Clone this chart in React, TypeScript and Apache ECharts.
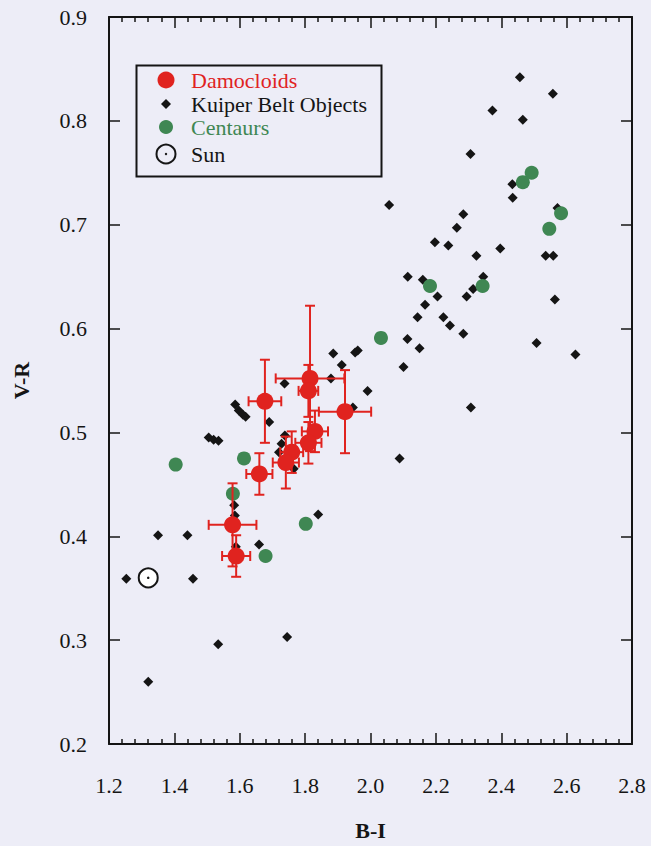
import React, { useEffect, useRef } from "react";
import * as echarts from "echarts";

// ---- data ----
const xTicks = [1.2, 1.4, 1.6, 1.8, 2.0, 2.2, 2.4, 2.6, 2.8];
const yTicks = [0.2, 0.3, 0.4, 0.5, 0.6, 0.7, 0.8, 0.9];

// Damocloids: [B-I, V-R, B-I error, V-R error]
const damocloids: number[][] = [
  [1.677, 0.530, 0.05, 0.04],
  [1.815, 0.552, 0.105, 0.07],
  [1.810, 0.540, 0.03, 0.025],
  [1.922, 0.520, 0.08, 0.04],
  [1.830, 0.501, 0.04, 0.02],
  [1.810, 0.490, 0.04, 0.02],
  [1.759, 0.481, 0.035, 0.02],
  [1.741, 0.471, 0.04, 0.025],
  [1.660, 0.460, 0.04, 0.02],
  [1.578, 0.411, 0.073, 0.04],
  [1.589, 0.381, 0.043, 0.02],
];

// Kuiper Belt Objects: [B-I, V-R]
const kuiperBeltObjects: number[][] = [
  [2.457, 0.842], [2.558, 0.826], [2.373, 0.810], [2.466, 0.801], [2.306, 0.768],
  [2.434, 0.739], [2.435, 0.726], [2.057, 0.719], [2.572, 0.716], [2.284, 0.710],
  [2.264, 0.697], [2.197, 0.683], [2.238, 0.680], [2.397, 0.677], [2.324, 0.670],
  [2.536, 0.670], [2.559, 0.670], [2.114, 0.650], [2.160, 0.647], [2.345, 0.650],
  [2.314, 0.638], [2.205, 0.631], [2.294, 0.631], [2.564, 0.628], [2.167, 0.623],
  [2.144, 0.611], [2.223, 0.611], [2.243, 0.603], [2.284, 0.595], [2.113, 0.590],
  [2.150, 0.581], [2.508, 0.586], [2.627, 0.575], [2.101, 0.563], [2.307, 0.524],
  [2.089, 0.475],
  [1.886, 0.576], [1.961, 0.579], [1.953, 0.577], [1.912, 0.565], [1.879, 0.552],
  [1.991, 0.540], [1.737, 0.547], [1.946, 0.524], [1.690, 0.510], [1.586, 0.527],
  [1.597, 0.521], [1.610, 0.517], [1.618, 0.515], [1.505, 0.495], [1.520, 0.493],
  [1.535, 0.492], [1.738, 0.497], [1.728, 0.489], [1.720, 0.481], [1.765, 0.465],
  [1.583, 0.430], [1.585, 0.420], [1.840, 0.421], [1.350, 0.401], [1.440, 0.401],
  [1.588, 0.390], [1.659, 0.392], [1.253, 0.359], [1.457, 0.359], [1.534, 0.296],
  [1.745, 0.303], [1.320, 0.260],
];

// Centaurs: [B-I, V-R]
const centaurs: number[][] = [
  [1.404, 0.469], [1.613, 0.475], [1.579, 0.441], [1.802, 0.412], [1.679, 0.381],
  [2.032, 0.591], [2.182, 0.641], [2.343, 0.641], [2.466, 0.741], [2.493, 0.750],
  [2.583, 0.711], [2.547, 0.696],
];

// Sun: [B-I, V-R]
const sun: number[][] = [[1.320, 0.360]];

const legendNames = ["Damocloids", "Kuiper Belt Objects", "Centaurs", "Sun"];

const RED = "#e0231f";
const GREEN = "#3f8753";
const INK = "#151515";
const BG = "#ededf7";
const FONT = "Liberation Serif";

export default function App() {
  const ref = useRef<HTMLDivElement>(null);

  useEffect(() => {
    if (!ref.current) return;
    const chart = echarts.init(ref.current, undefined, { renderer: "svg" });

    const commonX = {
      type: "value" as const,
      min: xTicks[0],
      max: xTicks[xTicks.length - 1],
      interval: 0.2,
      splitLine: { show: false },
      axisLine: { show: true, onZero: false, lineStyle: { color: INK, width: 2 } },
      axisTick: { show: true, inside: true, length: 11, lineStyle: { color: INK, width: 1.5 } },
      minorTick: { show: true, splitNumber: 5, length: 5, lineStyle: { color: INK, width: 1.5 } },
    };
    const commonY = {
      type: "value" as const,
      min: yTicks[0],
      max: yTicks[yTicks.length - 1],
      interval: 0.1,
      splitLine: { show: false },
      axisLine: { show: true, onZero: false, lineStyle: { color: INK, width: 2 } },
      axisTick: { show: true, inside: true, length: 11, lineStyle: { color: INK, width: 1.5 } },
    };

    const L = { x: 134, y: 63, w: 245, h: 111 };
    const tx = 191;
    const sx = 166;
    const rows = [80, 104, 127, 154];
    const legendText = (i: number, color: string) => ({
      type: "text",
      x: tx,
      y: rows[i],
      z: 10,
      style: {
        text: legendNames[i],
        fill: color,
        fontFamily: FONT,
        fontSize: 22,
        verticalAlign: "middle",
        align: "left",
      },
    });

    chart.setOption({
      animation: false,
      backgroundColor: BG,
      textStyle: { fontFamily: FONT },
      grid: { left: 109, right: 19, top: 17, bottom: 95, containLabel: false },
      xAxis: [
        {
          ...commonX,
          position: "bottom",
          name: "B-I",
          nameLocation: "middle",
          nameGap: 86,
          nameTextStyle: { fontFamily: FONT, fontSize: 22, fontWeight: "bold", color: INK, verticalAlign: "middle" },
          axisLabel: {
            margin: 30,
            fontFamily: FONT,
            fontSize: 22,
            color: INK,
            formatter: (v: number) => v.toFixed(1),
          },
        },
        { ...commonX, position: "top", axisLabel: { show: false } },
      ],
      yAxis: [
        {
          ...commonY,
          position: "left",
          name: "V-R",
          nameLocation: "middle",
          nameGap: 88,
          nameRotate: 90,
          nameTextStyle: { fontFamily: FONT, fontSize: 22, fontWeight: "bold", color: INK, verticalAlign: "middle" },
          axisLabel: {
            margin: 22,
            fontFamily: FONT,
            fontSize: 22,
            color: INK,
            formatter: (v: number) => v.toFixed(1),
          },
        },
        { ...commonY, position: "right", axisLabel: { show: false } },
      ],
      series: [
        {
          name: "Kuiper Belt Objects",
          type: "scatter",
          symbol: "diamond",
          symbolSize: 10,
          itemStyle: { color: INK, opacity: 1 },
          data: kuiperBeltObjects,
          z: 2,
        },
        {
          name: "Centaurs",
          type: "scatter",
          symbol: "circle",
          symbolSize: 14,
          itemStyle: { color: GREEN, opacity: 1 },
          data: centaurs,
          z: 3,
        },
        {
          name: "Damocloid errors",
          type: "custom",
          data: damocloids,
          encode: { x: 0, y: 1 },
          z: 4,
          renderItem: (params: any, api: any) => {
            const x = api.value(0);
            const y = api.value(1);
            const xe = api.value(2);
            const ye = api.value(3);
            const l = api.coord([x - xe, y]);
            const r = api.coord([x + xe, y]);
            const t = api.coord([x, y + ye]);
            const b = api.coord([x, y - ye]);
            const cap = 5;
            const st = { stroke: RED, lineWidth: 2 };
            return {
              type: "group",
              children: [
                { type: "line", shape: { x1: l[0], y1: l[1], x2: r[0], y2: r[1] }, style: st },
                { type: "line", shape: { x1: t[0], y1: t[1], x2: b[0], y2: b[1] }, style: st },
                { type: "line", shape: { x1: l[0], y1: l[1] - cap, x2: l[0], y2: l[1] + cap }, style: st },
                { type: "line", shape: { x1: r[0], y1: r[1] - cap, x2: r[0], y2: r[1] + cap }, style: st },
                { type: "line", shape: { x1: t[0] - cap, y1: t[1], x2: t[0] + cap, y2: t[1] }, style: st },
                { type: "line", shape: { x1: b[0] - cap, y1: b[1], x2: b[0] + cap, y2: b[1] }, style: st },
              ],
            };
          },
        },
        {
          name: "Damocloids",
          type: "scatter",
          symbol: "circle",
          symbolSize: 17,
          itemStyle: { color: RED, opacity: 1 },
          data: damocloids.map((d) => [d[0], d[1]]),
          z: 5,
        },
        {
          name: "Sun",
          type: "scatter",
          symbol: "emptyCircle",
          symbolSize: 19,
          itemStyle: { color: INK, borderColor: INK, borderWidth: 2, opacity: 1 },
          data: sun,
          z: 5,
        },
        {
          name: "Sun centre",
          type: "scatter",
          symbol: "circle",
          symbolSize: 2.5,
          itemStyle: { color: INK, opacity: 1 },
          data: sun,
          z: 6,
        },
      ],
      graphic: [
        {
          type: "rect",
          left: L.x,
          top: L.y,
          shape: { width: L.w, height: L.h },
          style: { fill: "none", stroke: INK, lineWidth: 2 },
          z: 10,
        },
        { type: "circle", shape: { cx: sx, cy: rows[0], r: 8.5 }, style: { fill: RED }, z: 10 },
        legendText(0, RED),
        {
          type: "polygon",
          shape: { points: [[sx, rows[1] - 5], [sx + 5, rows[1]], [sx, rows[1] + 5], [sx - 5, rows[1]]] },
          style: { fill: INK },
          z: 10,
        },
        legendText(1, INK),
        { type: "circle", shape: { cx: sx, cy: rows[2], r: 7 }, style: { fill: GREEN }, z: 10 },
        legendText(2, GREEN),
        { type: "circle", shape: { cx: sx, cy: rows[3], r: 9.5 }, style: { fill: "none", stroke: INK, lineWidth: 2 }, z: 10 },
        { type: "circle", shape: { cx: sx, cy: rows[3], r: 1.2 }, style: { fill: INK }, z: 10 },
        legendText(3, INK),
      ],
    });

    return () => chart.dispose();
  }, []);

  return (
    <div
      style={{ position: "fixed", left: 0, top: 0, width: 651, height: 846, background: BG }}
    >
      <div ref={ref} style={{ width: 651, height: 846 }} />
    </div>
  );
}
